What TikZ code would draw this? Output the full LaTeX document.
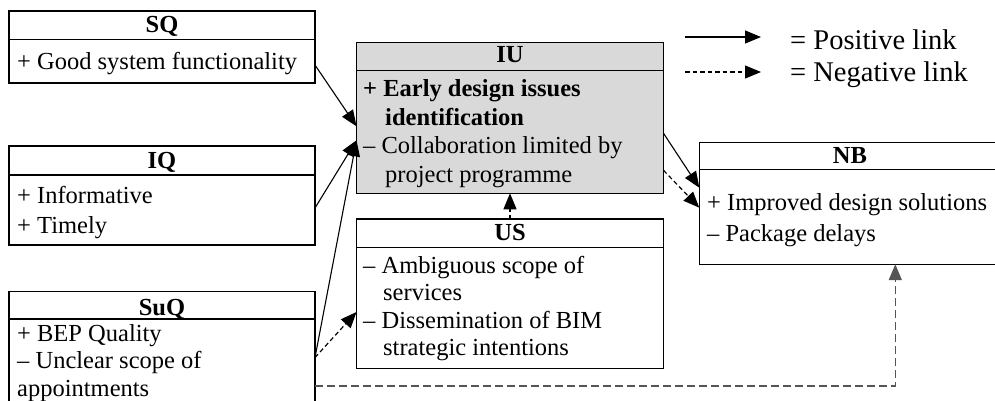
\documentclass[tikz,border=0pt]{standalone}
\usepackage{fontspec}
\setmainfont{Liberation Serif}
\usetikzlibrary{arrows.meta}
\definecolor{iufill}{RGB}{217,217,217}
\definecolor{dgray}{RGB}{85,85,85}
\begin{document}
\begin{tikzpicture}[x=1pt,y=-1pt,
  box/.style={draw=black,line width=1.1pt,rectangle,inner sep=0pt,outer sep=0pt,anchor=north west},
  sepline/.style={line width=1.1pt},
  ttl/.style={font=\fontsize{24.5}{28}\selectfont\bfseries,anchor=base,inner sep=0pt},
  txt/.style={font=\fontsize{24.5}{28}\selectfont,anchor=base west,inner sep=0pt},
  btxt/.style={font=\fontsize{24.5}{28}\selectfont\bfseries,anchor=base west,inner sep=0pt},
  leg/.style={font=\fontsize{28.5}{32}\selectfont,anchor=base west,inner sep=0pt},
  tiphead/.style={-{Triangle[length=16pt,width=13pt]}},
  poslink/.style={tiphead,line width=1.1pt},
  neglink/.style={tiphead,line width=1.2pt,dash pattern=on 4.5pt off 3pt},
  longneg/.style={tiphead,line width=1.5pt,draw=dgray,dash pattern=on 8pt off 4pt}]
\useasboundingbox (0,0) rectangle (995,401);
% boxes
\node[box,minimum width=306pt,minimum height=72pt] (SQ) at (9,11) {};
\draw[sepline] ([yshift=-28.5pt]SQ.north west) -- ([yshift=-28.5pt]SQ.north east);
\node[ttl] (SQt) at (162,33) {SQ};
\node[txt] (SQ1) at (17,70) {+ Good system functionality};

\node[box,minimum width=306pt,minimum height=99pt] (IQ) at (9,146) {};
\draw[sepline] ([yshift=-29pt]IQ.north west) -- ([yshift=-29pt]IQ.north east);
\node[ttl] (IQt) at (162,168) {IQ};
\node[txt] (IQ1) at (17,203) {+ Informative};
\node[txt] (IQ2) at (17,233) {+ Timely};

\node[box,minimum width=306pt,minimum height=130pt] (SuQ) at (9,291.5) {};
\draw[sepline] ([yshift=-27.5pt]SuQ.north west) -- ([yshift=-27.5pt]SuQ.north east);
\node[ttl] (SuQt) at (162,315) {SuQ};
\node[txt] (SuQ1) at (17,341) {+ BEP Quality};
\node[txt] (SuQ2) at (17,368) {– Unclear scope of};
\node[txt] (SuQ3) at (17,396) {appointments};

\node[box,fill=iufill,minimum width=307pt,minimum height=151pt] (IU) at (356.5,42.3) {};
\draw[sepline] ([yshift=-28.5pt]IU.north west) -- ([yshift=-28.5pt]IU.north east);
\node[ttl] (IUt) at (510,63) {IU};
\node[btxt] (IU1) at (363,97) {+ Early design issues};
\node[btxt] (IU2) at (385,125) {identification};
\node[txt] (IU3) at (363,153) {– Collaboration limited by};
\node[txt] (IU4) at (385,182) {project programme};

\node[box,minimum width=307pt,minimum height=149.5pt] (US) at (356.5,219) {};
\draw[sepline] ([yshift=-28.5pt]US.north west) -- ([yshift=-28.5pt]US.north east);
\node[ttl] (USt) at (510,240) {US};
\node[txt] (US1) at (363,273) {– Ambiguous scope of};
\node[txt] (US2) at (383,300) {services};
\node[txt] (US3) at (363,328) {– Dissemination of BIM};
\node[txt] (US4) at (383,355) {strategic intentions};

\node[box,minimum width=302pt,minimum height=121.5pt] (NB) at (699.3,142.7) {};
\draw[sepline] ([yshift=-26.5pt]NB.north west) -- ([yshift=-26.5pt]NB.north east);
\node[ttl] (NBt) at (850,163) {NB};
\node[txt] (NB1) at (707,210) {+ Improved design solutions};
\node[txt] (NB2) at (707,241) {– Package delays};

% connectors
\draw[poslink] ([yshift=-54pt]SQ.north east) -- ([yshift=-84pt]IU.north west);
\draw[poslink] ([yshift=-62pt]IQ.north east) -- ([yshift=-98pt]IU.north west);
\draw[poslink] ([yshift=-66pt]SuQ.north east) -- ([yshift=-98pt]IU.north west);
\draw[neglink] ([yshift=-66pt]SuQ.north east) -- ([yshift=-93pt]US.north west);
\draw[neglink] (US.north) -- (IU.south);
\draw[poslink] ([yshift=-91pt]IU.north east) -- ([yshift=-45pt]NB.north west);
\draw[neglink] ([yshift=-128pt]IU.north east) -- ([yshift=-65pt]NB.north west);
\draw[longneg] ([yshift=-94.5pt]SuQ.north east) -| ([xshift=196pt]NB.south west);

% legend
\coordinate (LPa) at (685,37);
\coordinate (LPb) at (761,37);
\coordinate (LNa) at (685,72);
\coordinate (LNb) at (761,72);
\draw[poslink] (LPa) -- (LPb);
\draw[neglink] (LNa) -- (LNb);
\node[leg] (LPt) at (790,50) {= Positive link};
\node[leg] (LNt) at (790,82) {= Negative link};
\end{tikzpicture}
\end{document}
